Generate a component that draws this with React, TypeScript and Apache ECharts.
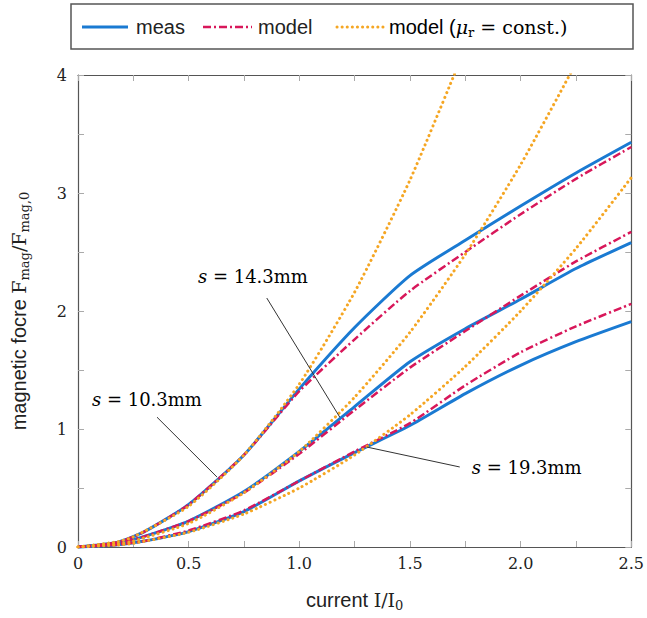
import React, { useEffect, useRef } from "react";
import * as echarts from "echarts";

// shared current samples for measurement & model
const X = [0, 0.18, 0.3, 0.5, 0.75, 1.0, 1.25, 1.5, 1.75, 2.0, 2.25, 2.5];
const meas103 = [0, 0.04, 0.13, 0.36, 0.78, 1.34, 1.86, 2.3, 2.6, 2.89, 3.17, 3.43];
const model103 = [0, 0.04, 0.13, 0.36, 0.78, 1.32, 1.76, 2.17, 2.5, 2.82, 3.12, 3.39];
const meas143 = [0, 0.03, 0.09, 0.22, 0.47, 0.81, 1.19, 1.57, 1.85, 2.1, 2.36, 2.58];
const model143 = [0, 0.03, 0.09, 0.22, 0.46, 0.79, 1.16, 1.52, 1.83, 2.13, 2.42, 2.67];
const meas193 = [0, 0.02, 0.05, 0.13, 0.3, 0.56, 0.8, 1.03, 1.3, 1.54, 1.74, 1.91];
const model193 = [0, 0.02, 0.05, 0.14, 0.31, 0.56, 0.81, 1.05, 1.37, 1.65, 1.87, 2.06];

// model with constant permeability
const XC = [0, 0.18, 0.25, 0.5, 0.75, 1.0, 1.25, 1.5, 1.75, 2.0, 2.25, 2.5];
const const103 = [0, 0.045, 0.086, 0.345, 0.78, 1.38, 2.16, 3.11, 4.23];
const const143 = [0, 0.026, 0.05, 0.2, 0.46, 0.81, 1.27, 1.82, 2.48, 3.24, 4.1];
const const193 = [0, 0.016, 0.031, 0.125, 0.28, 0.5, 0.78, 1.12, 1.53, 2.0, 2.53, 3.13];

const xTickLabels = ["0", "0.5", "1.0", "1.5", "2.0", "2.5"];
const yTickLabels = ["0", "1", "2", "3", "4"];

const annoLabels = ["10.3mm", "14.3mm", "19.3mm"];
const annoTextAt = [[0.063, 1.25], [0.542, 2.29], [1.779, 0.675]];
const annoFrom = [[0.357, 1.1], [0.853, 2.11], [1.305, 0.847]];
const annoTo = [[0.628, 0.593], [1.183, 1.1], [1.725, 0.678]];

const BLUE = "#1a7ad2";
const RED = "#d8175a";
const ORANGE = "#f5a623";
const SANS = "Liberation Sans, Arial, sans-serif";
const SERIF = "DejaVu Serif, serif";

const pairs = (xs: number[], ys: number[]) => ys.map((y, i) => [xs[i], y]);

export default function App() {
  const ref = useRef<HTMLDivElement>(null);
  useEffect(() => {
    if (!ref.current) return;
    const chart = echarts.init(ref.current, undefined, { renderer: "svg" });

    const meas = [meas103, meas143, meas193];
    const model = [model103, model143, model193];
    const cst = [const103, const143, const193];
    const series: any[] = [];
    meas.forEach((d, i) =>
      series.push({
        name: "meas " + annoLabels[i], type: "line", data: pairs(X, d), symbol: "none",
        smooth: 0.2,
        lineStyle: { color: BLUE, width: 3 }, z: 3,
      })
    );
    model.forEach((d, i) =>
      series.push({
        name: "model " + annoLabels[i], type: "line", data: pairs(X, d), symbol: "none",
        smooth: 0.2,
        lineStyle: { color: RED, width: 2.5, type: [8, 3, 2, 3] }, z: 4,
      })
    );
    cst.forEach((d, i) =>
      series.push({
        name: "const " + annoLabels[i], type: "line", data: pairs(XC, d), symbol: "none",
        smooth: 0.2,
        lineStyle: { color: ORANGE, width: 3, type: [0.1, 5], cap: "round" }, z: 5,
      })
    );
    annoFrom.forEach((f, i) =>
      series.push({
        name: "leader " + i, type: "line", data: [f, annoTo[i]], symbol: "none", silent: true,
        lineStyle: { color: "#333", width: 1 }, z: 6,
      })
    );

    const axisCommon = {
      axisLine: { show: true, onZero: false, lineStyle: { color: "#555", width: 1.2 } },
      axisTick: { show: true, inside: true, length: 6, lineStyle: { color: "#aaa", width: 1 } },
      minorTick: { show: true, splitNumber: 2, length: 6, lineStyle: { color: "#aaa", width: 1 } },
      splitLine: { show: false },
    };

    chart.setOption({
      animation: false,
      backgroundColor: "#fff",
      grid: { left: 78, right: 15, top: 75, bottom: 71, containLabel: false },
      xAxis: [
        {
          type: "value", min: 0, max: 2.5, interval: 0.5, ...axisCommon,
          axisLabel: {
            fontFamily: SERIF, fontSize: 16, color: "#222", margin: 8,
            formatter: (_v: number, idx: number) => xTickLabels[idx] ?? "",
          },
          name: "{t|current }{m|I/I}{s|0}", nameLocation: "middle", nameGap: 41,
          nameTextStyle: {
            rich: {
              t: { fontFamily: SANS, fontSize: 20, color: "#222", lineHeight: 24 },
              m: { fontFamily: SERIF, fontSize: 19, color: "#222", lineHeight: 24 },
              s: { fontFamily: SERIF, fontSize: 13, color: "#222", lineHeight: 13, verticalAlign: "bottom" },
            },
          },
        },
        { type: "value", min: 0, max: 2.5, interval: 0.5, position: "top", ...axisCommon, axisLabel: { show: false } },
      ],
      yAxis: [
        {
          type: "value", min: 0, max: 4, interval: 1, ...axisCommon,
          axisLabel: {
            fontFamily: SERIF, fontSize: 16, color: "#222", margin: 11,
            formatter: (_v: number, idx: number) => yTickLabels[idx] ?? "",
          },
          name: "{t|magnetic focre }{m|F}{s|mag}{m|/F}{s|mag,0}", nameLocation: "middle", nameGap: 47,
          nameRotate: 90,
          nameTextStyle: {
            rich: {
              t: { fontFamily: SANS, fontSize: 20, color: "#222", lineHeight: 24 },
              m: { fontFamily: SERIF, fontSize: 19, color: "#222", lineHeight: 24 },
              s: { fontFamily: SERIF, fontSize: 13, color: "#222", lineHeight: 13, verticalAlign: "bottom" },
            },
          },
        },
        { type: "value", min: 0, max: 4, interval: 1, position: "right", ...axisCommon, axisLabel: { show: false } },
      ],
      series,
    });

    const annoRich = {
      i: { fontFamily: SERIF, fontStyle: "italic", fontSize: 18, color: "#222" },
      n: { fontFamily: SERIF, fontSize: 18, color: "#222" },
    };
    const annoTexts = annoTextAt.map((p, i) => {
      const [px, py] = chart.convertToPixel({ gridIndex: 0 }, p) as number[];
      return {
        type: "text", x: px, y: py, z: 20,
        style: { text: `{i|s}{n| = ${annoLabels[i]}}`, rich: annoRich, align: "left", verticalAlign: "middle" },
      };
    });

    const ly = 27;
    const legend = [
      { type: "rect", shape: { x: 71, y: 4, width: 562, height: 45 }, style: { fill: "#fff", stroke: "#555", lineWidth: 1.5 }, z: 10 },
      { type: "line", shape: { x1: 82, y1: ly, x2: 128, y2: ly }, style: { stroke: BLUE, lineWidth: 3 }, z: 11 },
      { type: "text", x: 136, y: ly, z: 11, style: { text: "meas", fontFamily: SANS, fontSize: 20, fill: "#222", verticalAlign: "middle" } },
      { type: "line", shape: { x1: 203, y1: ly, x2: 252, y2: ly }, style: { stroke: RED, lineWidth: 2.5, lineDash: [8, 3, 2, 3] }, z: 11 },
      { type: "text", x: 258, y: ly, z: 11, style: { text: "model", fontFamily: SANS, fontSize: 20, fill: "#222", verticalAlign: "middle" } },
      { type: "line", shape: { x1: 337, y1: ly, x2: 383, y2: ly }, style: { stroke: ORANGE, lineWidth: 3, lineDash: [0.1, 5], lineCap: "round" }, z: 11 },
      {
        type: "text", x: 389, y: ly, z: 11,
        style: {
          text: "{t|model (}{mu|μ}{s|r}{m| = const.)}", verticalAlign: "middle",
          rich: {
            t: { fontFamily: SANS, fontSize: 20, color: "#222", lineHeight: 24 },
            mu: { fontFamily: SERIF, fontStyle: "italic", fontSize: 19, color: "#222", lineHeight: 24 },
            s: { fontFamily: SERIF, fontSize: 13, color: "#222", lineHeight: 13, verticalAlign: "bottom" },
            m: { fontFamily: SERIF, fontSize: 19, color: "#222", lineHeight: 24 },
          },
        },
      },
    ];

    chart.setOption({ graphic: { elements: [...legend, ...annoTexts] } });
    return () => chart.dispose();
  }, []);
  return <div ref={ref} style={{ position: "fixed", left: 0, top: 0, width: 647, height: 618 }} />;
}
